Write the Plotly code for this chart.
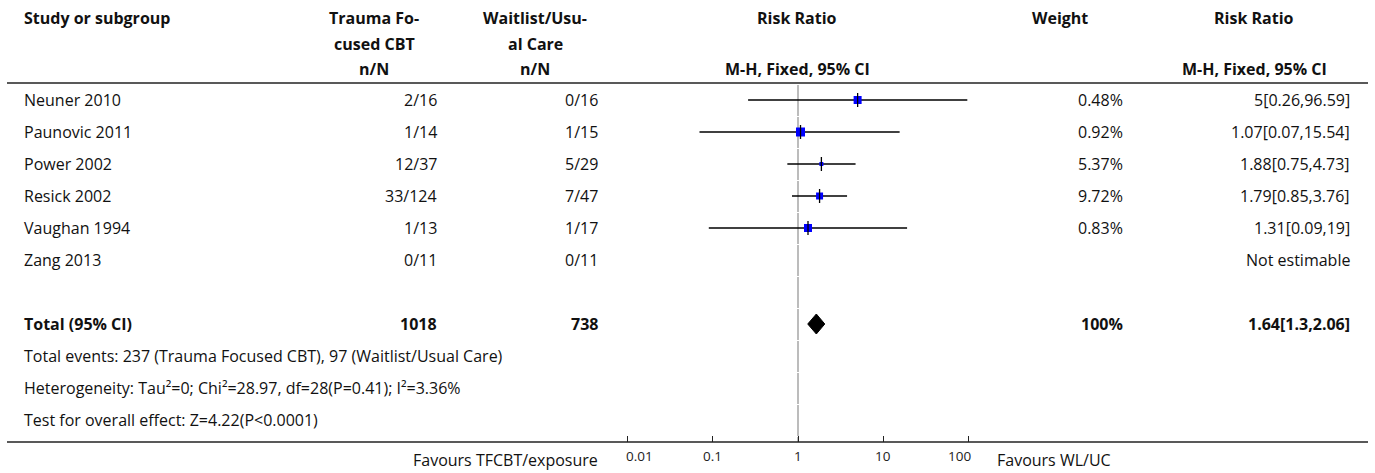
import math
import plotly.graph_objects as go

# ---- study-level data -------------------------------------------------------
studies = ["Neuner 2010", "Paunovic 2011", "Power 2002", "Resick 2002",
           "Vaughan 1994", "Zang 2013"]
tfcbt_nN = ["2/16", "1/14", "12/37", "33/124", "1/13", "0/11"]
wluc_nN = ["0/16", "1/15", "5/29", "7/47", "1/17", "0/11"]
rr_est = [5, 1.07, 1.88, 1.79, 1.31, None]
rr_low = [0.26, 0.07, 0.75, 0.85, 0.09, None]
rr_high = [96.59, 15.54, 4.73, 3.76, 19, None]
weights = ["0.48%", "0.92%", "5.37%", "9.72%", "0.83%", ""]
rr_text = ["5[0.26,96.59]", "1.07[0.07,15.54]", "1.88[0.75,4.73]",
           "1.79[0.85,3.76]", "1.31[0.09,19]", "Not estimable"]
box_sizes = [8, 9, 4, 7, 8, None]

# ---- pooled result ----------------------------------------------------------
total_label = "Total (95% CI)"
total_tfcbt = "1018"
total_wluc = "738"
total_est, total_low, total_high = 1.64, 1.3, 2.06
total_weight = "100%"
total_text = "1.64[1.3,2.06]"
footnotes = [
    "Total events: 237 (Trauma Focused CBT), 97 (Waitlist/Usual Care)",
    "Heterogeneity: Tau\u00b2=0; Chi\u00b2=28.97, df=28(P=0.41); I\u00b2=3.36%",
    "Test for overall effect: Z=4.22(P<0.0001)",
]
axis_ticks = [0.01, 0.1, 1, 10, 100]
axis_ticklabels = ["0.01", "0.1", "1", "10", "100"]

# ---- layout geometry (pixels) ----------------------------------------------
W, H = 1375, 473
ROW0, ROW_H = 100, 32
def row_y(i):
    return ROW0 + ROW_H * i

PX_ONE = 798          # x pixel of RR = 1
PX_DECADE = 85.3      # pixels per decade
AX_L, AX_R = 617, 978
AXIS_Y = 442
HEAD_LINE_Y = 83

FONT = "Open Sans"
FS = 16
DARK = "#111111"

fig = go.Figure()

# confidence intervals, weight boxes and estimate ticks
for i, s in enumerate(studies):
    if rr_est[i] is None:
        continue
    y = row_y(i)
    fig.add_trace(go.Scatter(x=[rr_low[i], rr_high[i]], y=[y, y], mode="lines",
                             line=dict(color="black", width=1.4),
                             hoverinfo="skip", showlegend=False))
    fig.add_trace(go.Scatter(x=[rr_est[i]], y=[y], mode="markers",
                             marker=dict(symbol="square", size=box_sizes[i],
                                         color="#0000ff", line=dict(width=0)),
                             name=s, showlegend=False))
    fig.add_trace(go.Scatter(x=[rr_est[i]], y=[y], mode="markers",
                             marker=dict(symbol="line-ns", size=10,
                                         line=dict(color="black", width=1.3)),
                             hoverinfo="skip", showlegend=False))

# pooled diamond
ty = row_y(7)
dh = 10
fig.add_trace(go.Scatter(
    x=[total_low, total_est, total_high, total_est, total_low],
    y=[ty, ty - dh, ty, ty + dh, ty],
    mode="lines", fill="toself", fillcolor="black",
    line=dict(color="black", width=1), hoverinfo="skip", showlegend=False))

ann = []
def text(x, y, s, anchor="left", bold=False, size=FS):
    ann.append(dict(x=x / W, y=y, xref="paper", yref="y",
                    text=f"<b>{s}</b>" if bold else s, showarrow=False,
                    xanchor=anchor, yanchor="middle",
                    font=dict(family=FONT, size=size, color=DARK)))

# header
hy1, hy2, hy3 = 18, 44, 69
text(22, hy1, "Study or subgroup", bold=True)
text(374, hy1, "Trauma Fo-", "center", True)
text(374, hy2, "cused CBT", "center", True)
text(374, hy3, "n/N", "center", True)
text(535, hy1, "Waitlist/Usu-", "center", True)
text(535, hy2, "al Care", "center", True)
text(535, hy3, "n/N", "center", True)
text(797, hy1, "Risk Ratio", "center", True)
text(797, hy3, "M-H, Fixed, 95% CI", "center", True)
text(1060, hy1, "Weight", "center", True)
text(1254, hy1, "Risk Ratio", "center", True)
text(1254, hy3, "M-H, Fixed, 95% CI", "center", True)

# study rows
COL_T, COL_W, COL_WT, COL_RR = 439, 600, 1125, 1352
for i, s in enumerate(studies):
    y = row_y(i)
    text(22, y, s)
    text(COL_T, y, tfcbt_nN[i], "right")
    text(COL_W, y, wluc_nN[i], "right")
    if weights[i]:
        text(COL_WT, y, weights[i], "right")
    text(COL_RR, y, rr_text[i], "right")

# total row
text(22, ty, total_label, bold=True)
text(COL_T, ty, total_tfcbt, "right", True)
text(COL_W, ty, total_wluc, "right", True)
text(COL_WT, ty, total_weight, "right", True)
text(COL_RR, ty, total_text, "right", True)

for k, f in enumerate(footnotes):
    text(22, row_y(8 + k), f)

# favours labels
text(600, 460, "Favours TFCBT/exposure", "right")
text(995, 460, "Favours WL/UC", "left")

# tick labels (log axis: annotation x is given in log10 units);
# the outer labels are kept inside the axis span
for k, (tv, tl) in enumerate(zip(axis_ticks, axis_ticklabels)):
    if k == 0:
        anchor, shift = "left", -3
    elif k == len(axis_ticks) - 1:
        anchor, shift = "right", 4
    else:
        anchor, shift = "center", 0
    ann.append(dict(x=math.log10(tv), y=456, xref="x", yref="y", text=tl,
                    showarrow=False, xanchor=anchor, yanchor="middle",
                    xshift=shift,
                    font=dict(family=FONT, size=13.5, color="#222")))

shapes = [
    dict(type="line", xref="paper", yref="y", x0=7 / W, x1=1368 / W,
         y0=HEAD_LINE_Y, y1=HEAD_LINE_Y, line=dict(color="#222", width=1.5)),
    dict(type="line", xref="paper", yref="y", x0=7 / W, x1=1368 / W,
         y0=AXIS_Y, y1=AXIS_Y, line=dict(color="#222", width=1.5)),
]
# line of no effect, drawn row by row
bounds = [HEAD_LINE_Y + 1 + ROW_H * k for k in range(12)] + [AXIS_Y]
for a, b in zip(bounds[:-1], bounds[1:]):
    shapes.append(dict(type="line", xref="x", yref="y", x0=1, x1=1,
                       y0=a + 1, y1=b, line=dict(color="#a0a0a0", width=1.4),
                       layer="below"))

lo = (AX_L - PX_ONE) / PX_DECADE
hi = (AX_R - PX_ONE) / PX_DECADE

fig.update_layout(
    width=W, height=H, margin=dict(l=0, r=0, t=0, b=0),
    paper_bgcolor="white", plot_bgcolor="white",
    annotations=ann, shapes=shapes, showlegend=False,
    xaxis=dict(type="log", range=[lo, hi], domain=[AX_L / W, AX_R / W],
               anchor="free", position=1 - AXIS_Y / H,
               tickvals=axis_ticks, showticklabels=False,
               ticks="inside", ticklen=6, tickwidth=1, tickcolor="#222",
               showgrid=False, zeroline=False, showline=False),
    yaxis=dict(range=[H, 0], domain=[0, 1], visible=False, showgrid=False,
               zeroline=False),
)

fig.write_html("out.html")
